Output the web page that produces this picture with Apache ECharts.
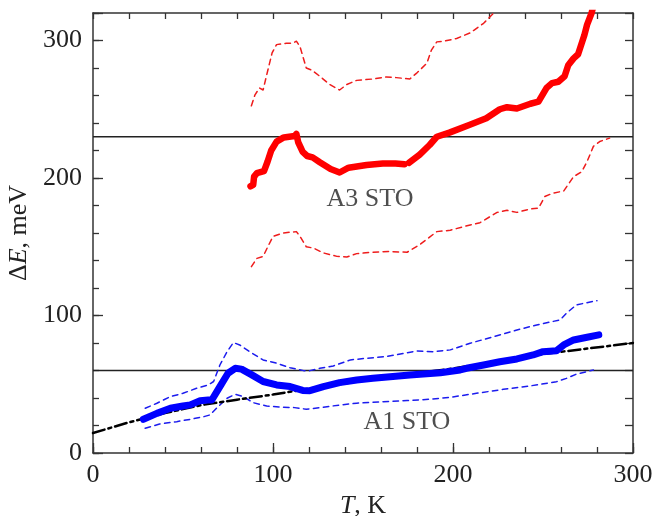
<!DOCTYPE html>
<html>
<head>
<meta charset="utf-8">
<script src="https://cdn.jsdelivr.net/npm/echarts@6/dist/echarts.min.js"></script>
<style>
html,body{margin:0;padding:0;background:#fff;}
#c{width:664px;height:516px;}
</style>
</head>
<body>
<div id="c"></div>
<script>
// ---- data (T in K, ΔE in meV) ----
const a3Mid = [[87.5,194],[89,195],[89.5,201],[91,203.5],[95,205],[97,212],[99,220],[102,226.5],[106,229.5],[112,230.5],[113,232],[114,226],[116.5,219],[119,216],[122,215],[126,211.5],[132,206.5],[137,204],[142,207.5],[152,209.5],[161,210.5],[168,210.5],[173,210],null,[175.5,211],[181.5,217],[187,224],[191,230],[198,233],[209,238.5],[218.5,243.5],[226,250],[230,251.5],[235.5,250.5],[243,254],[247.5,255.5],[252,265.5],[255,269],[258.5,270],[262,274],[264,282],[267,287],[269.5,290],[271.5,298],[273,304],[274.5,311.5],[277,320],[278.5,328]];
const a3Upper = [[88,252.5],[90,260.5],[92.5,265.5],[94.5,264],[96.5,275],[99.5,291],[102,297],[107.5,298],[111,298],[113,299.5],[115,295.5],[118.5,280],[121.5,278.5],[126,274],[131.5,268],[137,264],[141,268],[146.5,271],[155.5,272],[163,273.5],[168.5,273],[176,272],[180,276.5],[185.5,283.5],[188,293],[191,299],[195,299.5],[202,301.5],[209.5,305.5],[217,312.5],[221.5,318.5],[224,322]];
const a3Lower = [[88,135.5],[91,141.5],[94.5,143],[97.5,151],[100,157.5],[105.5,160],[113,161],[115,157.5],[118.5,150],[122.5,149],[128,145.5],[135.5,143],[141,142.5],[146.5,145],[155.5,146],[165,146.5],[174.5,146],[181.5,151.5],[187,157],[191,161],[198.5,162],[205.5,164.5],[215,167.5],[224.5,175],[230,176.5],[235.5,175],[243,177.5],[247.5,178],[251,186.5],[255.5,189],[261.5,190.5],[267,201],[271.5,204.5],[274.5,212],[278,223],[281.5,226.5],[287,229]];
const a1Mid = [[28,24.5],[35.5,28.8],[43,32.5],[50,34.2],[54,35],[59.5,38],[64,38.5],[66,38.5],[70.5,48.3],[75,58],[79,61.6],[82.5,61],[88,57],[94.5,52],[102,49.5],[109.5,48.3],[116.5,45.5],[120.5,45.3],[128,48.3],[137,51.2],[146.5,53.1],[155.5,54.3],[165,55.5],[176,56.8],[183.5,57.5],[193,58.4],[204,60.4],[207.5,61.6],[217,64],[226,66.4],[235.5,68.4],[244.5,71.3],[250,73.7],[257.5,74.4],[261.5,78.6],[267,82.2],[274.5,84.2],[281,85.9]];
const a1Upper = [[29,32.5],[35.5,36.2],[43,41],[50,43.4],[57.5,47.1],[64,49.5],[67,52],[70.5,64],[74.5,73.7],[78,80.3],[81.5,78.6],[87,73.7],[94.5,67.7],[102,65.3],[109.5,62],[117,59.9],[120.5,59.9],[126,61.6],[133.5,63.3],[143,67.7],[152,68.9],[163,70.1],[180,74.2],[189,73.7],[198.5,75],[209.5,79.8],[222.5,84.6],[235.5,89.5],[246.5,93.1],[259.5,96.8],[263,101.6],[268.5,107.7],[280,110.8]];
const a1Lower = [[29,18],[37,21.1],[46.5,22.8],[54,24.5],[61.5,26.4],[65,27.7],[69.5,33.7],[74.5,39.8],[79,42.7],[83.5,41],[89,36.6],[96.5,34.2],[105.5,33.3],[112,33],[118.5,31.8],[128,33.3],[137,34.9],[146.5,36.2],[161,37.3],[174.5,38.1],[187,39.1],[198.5,40.5],[213,43.4],[228,46.3],[243,48.8],[257.5,51.9],[263,54.3],[268.5,57.3],[278,60.4]];
const fitCurve = [[0,14.5],[20,22.3],[40,29],[60,34.8],[80,38.8],[100,42.5],[120,46.8],[150,52.5],[200,61.5],[250,72],[300,80]];
const levels = [230, 60];
const labelsText = ['A3 STO', 'A1 STO'];
const xRange = [0, 300];
const yRange = [0, 320];

const FONT = 'Liberation Serif';
const FS = 26;
const TXT = '#222';
const AX = '#333';

const chart = echarts.init(document.getElementById('c'), null, {renderer: 'canvas'});

const gridRect = {left: 93, right: 31, top: 13, bottom: 63, outerBoundsMode: 'none', containLabel: false};
function fmt(v){ return (v % 100 === 0) ? String(v) : ''; }

const levelSeries = levels.map(v => ({
  type: 'line', xAxisIndex: 0, yAxisIndex: 0, symbol: 'none', silent: true,
  data: [[xRange[0], v], [xRange[1], v]],
  lineStyle: {color: '#222', width: 1.3}, z: 1
}));

function curve(data, color, width, dash, z) {
  return {
    type: 'line', xAxisIndex: 0, yAxisIndex: 0, symbol: 'none', silent: true,
    data: data, connectNulls: false, clip: true,
    lineStyle: {color: color, width: width, type: dash || 'solid', cap: 'round', join: 'round'},
    z: z || 3
  };
}

const richName = {i: {fontFamily: FONT, fontSize: FS, fontStyle: 'italic', color: TXT}, r: {fontFamily: FONT, fontSize: FS, color: TXT}};

const option = {
  animation: false,
  backgroundColor: '#fff',
  grid: [Object.assign({}, gridRect), Object.assign({}, gridRect)],
  xAxis: [
    {type: 'value', gridIndex: 0, position: 'bottom', min: xRange[0], max: xRange[1], interval: 20,
     axisLine: {onZero: false, lineStyle: {color: AX, width: 1.5}},
     axisTick: {inside: true, length: 6, lineStyle: {color: AX, width: 1.3}},
     axisLabel: {formatter: fmt, fontFamily: FONT, fontSize: FS, color: TXT, margin: 9, showMinLabel: true, showMaxLabel: true},
     splitLine: {show: false},
     name: '{i|T}{r|, K}', nameLocation: 'middle', nameGap: 30,
     nameTextStyle: {fontFamily: FONT, fontSize: FS, color: TXT, rich: richName}},
    {type: 'value', gridIndex: 0, position: 'top', min: xRange[0], max: xRange[1], interval: 20,
     axisLine: {onZero: false, lineStyle: {color: AX, width: 1.5}},
     axisTick: {inside: true, length: 6, lineStyle: {color: AX, width: 1.3}},
     axisLabel: {show: false}, splitLine: {show: false}},
    {type: 'value', gridIndex: 1, position: 'bottom', min: xRange[0], max: xRange[1], interval: 100,
     axisLine: {show: false, onZero: false},
     axisTick: {inside: true, length: 10, lineStyle: {color: AX, width: 1.3}},
     axisLabel: {show: false}, splitLine: {show: false}}
  ],
  yAxis: [
    {type: 'value', gridIndex: 0, position: 'left', min: yRange[0], max: yRange[1], interval: 20,
     axisLine: {onZero: false, lineStyle: {color: AX, width: 1.5}},
     axisTick: {inside: true, length: 6, lineStyle: {color: AX, width: 1.3}},
     axisLabel: {formatter: fmt, fontFamily: FONT, fontSize: FS, color: TXT, margin: 11},
     splitLine: {show: false},
     name: '{r|Δ}{i|E}{r|, meV}', nameLocation: 'middle', nameGap: 52, nameRotate: 90,
     nameTextStyle: {fontFamily: FONT, fontSize: FS, color: TXT, rich: richName}},
    {type: 'value', gridIndex: 0, position: 'right', min: yRange[0], max: yRange[1], interval: 20,
     axisLine: {onZero: false, lineStyle: {color: AX, width: 1.5}},
     axisTick: {inside: true, length: 8, lineStyle: {color: AX, width: 1.3}},
     axisLabel: {show: false}, splitLine: {show: false}},
    {type: 'value', gridIndex: 1, position: 'left', min: yRange[0], max: yRange[1], interval: 100,
     axisLine: {show: false, onZero: false},
     axisTick: {inside: true, length: 10, lineStyle: {color: AX, width: 1.3}},
     axisLabel: {show: false}, splitLine: {show: false}}
  ],
  series: [
    ...levelSeries,
    curve(fitCurve, '#000', 2.5, [12, 4, 3, 4], 4),
    curve(a3Upper, '#ee1c1c', 1.5, [5.5, 4.5]),
    curve(a3Lower, '#ee1c1c', 1.5, [5.5, 4.5]),
    curve(a1Upper, '#1c1cee', 1.5, [5.5, 4.5]),
    curve(a1Lower, '#1c1cee', 1.5, [5.5, 4.5]),
    curve(a3Mid, '#ff0000', 6.5, 'solid', 5),
    curve(a1Mid, '#0000ff', 7, 'solid', 5),
    {type: 'scatter', xAxisIndex: 0, yAxisIndex: 0, symbolSize: 0, silent: true,
     data: [{value: [153.9, 184.5], name: labelsText[0]}, {value: [174.4, 22.6], name: labelsText[1]}],
     label: {show: true, position: 'inside', formatter: p => p.name, fontFamily: FONT, fontSize: FS, color: TXT},
     z: 6},
    {type: 'line', xAxisIndex: 2, yAxisIndex: 2, data: [], silent: true}
  ]
};
chart.setOption(option);
</script>
</body>
</html>
